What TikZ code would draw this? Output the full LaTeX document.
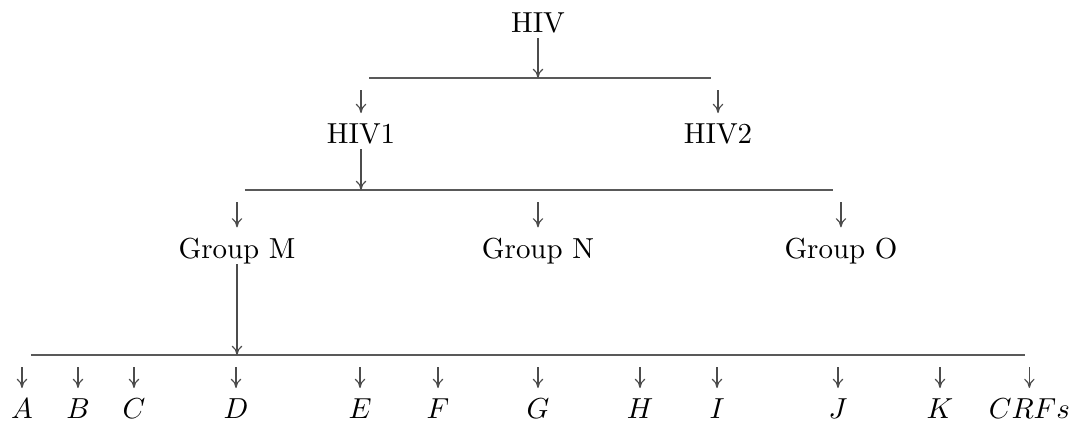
\documentclass[tikz,border=0pt]{standalone}
\usetikzlibrary{arrows.meta}

\begin{document}
\begin{tikzpicture}[>={To[length=3.2pt,width=3.6pt]},
          lbl/.style={anchor=base, inner sep=3.33pt},
          bar/.style={black!65, line width=0.5pt},
          arr/.style={->, black!70, line width=0.4pt},
          fromnode/.style={arr, shorten <=2.2pt},
          tonode/.style={arr, shorten <=4.2pt}]
        \useasboundingbox (0,0) rectangle (13.2,5.149);
        % labels
        \node[lbl] (hiv)  at (6.533,4.760) {HIV};
        \node[lbl] (hiv1) at (4.384,3.412) {HIV1};
        \node[lbl] (hiv2) at (8.719,3.412) {HIV2};
        \node[lbl] (grpM) at (2.878,2.016) {Group M};
        \node[lbl] (grpN) at (6.533,2.016) {Group N};
        \node[lbl] (grpO) at (10.212,2.016) {Group O};
        \foreach \x/\n in {0.267/A, 0.947/B, 1.627/C, 2.866/D, 4.372/E, 5.319/F,
                           6.533/G, 7.772/H, 8.707/I, 10.176/J, 11.415/K, 12.500/CRFs}
          \node[lbl] (sub\n) at (\x,0.073) {$\n$};
        % bars
        \coordinate (bar1w) at (4.481,4.202);
        \coordinate (bar1e) at (8.634,4.202);
        \coordinate (bar2w) at (2.975,2.842);
        \coordinate (bar2e) at (10.115,2.842);
        \coordinate (bar3w) at (0.376,0.838);
        \coordinate (bar3e) at (12.447,0.838);
        \draw[bar] (bar1w) -- (bar1e);
        \draw[bar] (bar2w) -- (bar2e);
        \draw[bar] (bar3w) -- (bar3e);
        % arrows
        \draw[fromnode] (hiv.base) -- (hiv |- bar1w);
        \foreach \n in {hiv1, hiv2}
          \draw[tonode] (\n |- bar1w) -- (\n.north);
        \draw[fromnode] (hiv1.base) -- (hiv1 |- bar2w);
        \foreach \n in {grpM, grpN, grpO}
          \draw[tonode] (\n |- bar2w) -- (\n.north);
        \draw[fromnode] (grpM.base) -- (grpM |- bar3w);
        \foreach \n in {A, B, C, D, E, F, G, H, I, J, K, CRFs}
          \draw[tonode] (sub\n |- bar3w) -- (sub\n.north);
      \end{tikzpicture}
\end{document}
